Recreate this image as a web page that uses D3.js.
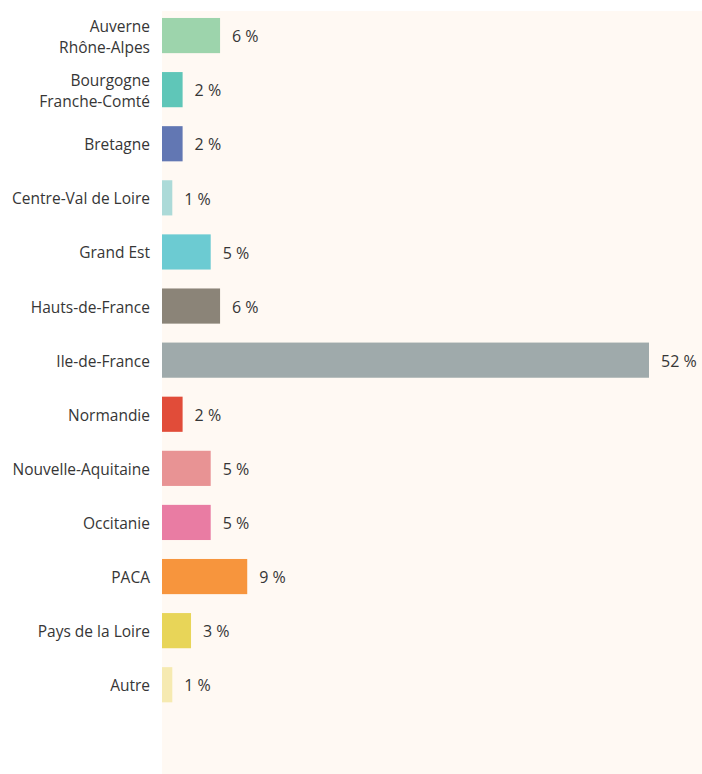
<!DOCTYPE html>
<html>
<head>
<meta charset="utf-8">
<script src="https://cdn.jsdelivr.net/npm/d3@7"></script>
<style>
  html, body { margin: 0; padding: 0; background: #ffffff; }
  svg { display: block; }
</style>
</head>
<body>
<div id="container"></div>
<script>
const width = 702, height = 774;

// --- Data ---
const regions = [
  "Auverne\nRhône-Alpes", "Bourgogne\nFranche-Comté", "Bretagne", "Centre-Val de Loire",
  "Grand Est", "Hauts-de-France", "Ile-de-France", "Normandie", "Nouvelle-Aquitaine",
  "Occitanie", "PACA", "Pays de la Loire", "Autre"
];
const shares = [6.2, 2.2, 2.2, 1.1, 5.2, 6.2, 52, 2.2, 5.2, 5.2, 9.1, 3.1, 1.1];
const shareLabels = ["6 %", "2 %", "2 %", "1 %", "5 %", "6 %", "52 %", "2 %", "5 %", "5 %", "9 %", "3 %", "1 %"];
const barColors = [
  "#9dd4ac", "#5fc6b8", "#6277b3", "#acdad8", "#6ccbd2", "#8b8478", "#9faaab",
  "#e14c39", "#e89394", "#e97ca3", "#f7953d", "#e8d558", "#f6eab1"
];

const font = "'Open Sans', sans-serif";
const ink = "#363636";

const svg = d3.select("#container").append("svg")
  .attr("width", width).attr("height", height);

const plotLeft = 162;

// plot background
svg.append("rect")
  .attr("x", plotLeft).attr("y", 11)
  .attr("width", width - plotLeft).attr("height", height - 11)
  .attr("fill", "#fff9f3");

const y = d3.scaleBand().domain(regions).range([8.5, 711.8])
  .paddingInner(0.35).paddingOuter(0.175);
const x = d3.scaleLinear().domain([0, 52]).range([plotLeft, 649]);

const rows = regions.map((r, i) => ({ r, v: shares[i], lab: shareLabels[i], c: barColors[i] }));

svg.append("g").selectAll("rect").data(rows).join("rect")
  .attr("x", x(0)).attr("y", d => y(d.r))
  .attr("width", d => x(d.v) - x(0)).attr("height", y.bandwidth())
  .attr("fill", d => d.c);

// value labels
svg.append("g").selectAll("text").data(rows).join("text")
  .attr("x", d => x(d.v) + 12)
  .attr("y", d => y(d.r) + y.bandwidth() / 2)
  .attr("dy", "0.42em")
  .attr("fill", ink).style("font-family", font).style("font-size", "16px")
  .text(d => d.lab);

// category labels (right-aligned, possibly two lines)
const catG = svg.append("g");
rows.forEach(d => {
  const lines = d.r.split("\n");
  const cy = y(d.r) + y.bandwidth() / 2;
  const lh = 21;
  const t = catG.append("text")
    .attr("text-anchor", "end")
    .attr("fill", ink).style("font-family", font).style("font-size", "15.5px");
  lines.forEach((ln, k) => {
    t.append("tspan")
      .attr("x", 150)
      .attr("y", cy + (k - (lines.length - 1) / 2) * lh)
      .attr("dy", "0.42em")
      .text(ln);
  });
});
</script>
</body>
</html>
